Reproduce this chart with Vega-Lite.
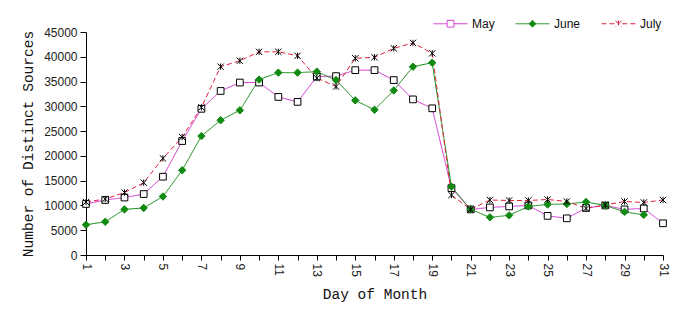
{
  "$schema": "https://vega.github.io/schema/vega-lite/v6.json",
  "width": 577,
  "height": 223,
  "autosize": {"type": "none"},
  "padding": {"left": 86, "top": 32, "right": 13, "bottom": 57},
  "background": "white",
  "config": {
    "view": {"stroke": null},
    "axis": {"grid": false, "domainColor": "#000", "tickColor": "#000", "labelFont": "Liberation Sans", "labelFontSize": 12, "labelColor": "#222", "titleFont": "Liberation Mono", "titleFontSize": 14.5, "titleFontWeight": "normal", "titleColor": "#111"}
  },
  "data": {"values": [
    {"day": 1, "month": "May", "value": 10300}, {"day": 2, "month": "May", "value": 11100}, {"day": 3, "month": "May", "value": 11600}, {"day": 4, "month": "May", "value": 12300}, {"day": 5, "month": "May", "value": 15800}, {"day": 6, "month": "May", "value": 23000}, {"day": 7, "month": "May", "value": 29500}, {"day": 8, "month": "May", "value": 33100}, {"day": 9, "month": "May", "value": 34800}, {"day": 10, "month": "May", "value": 34800}, {"day": 11, "month": "May", "value": 31900}, {"day": 12, "month": "May", "value": 30900}, {"day": 13, "month": "May", "value": 36000}, {"day": 14, "month": "May", "value": 36100}, {"day": 15, "month": "May", "value": 37300}, {"day": 16, "month": "May", "value": 37300}, {"day": 17, "month": "May", "value": 35300}, {"day": 18, "month": "May", "value": 31400}, {"day": 19, "month": "May", "value": 29600}, {"day": 20, "month": "May", "value": 13500}, {"day": 21, "month": "May", "value": 9200}, {"day": 22, "month": "May", "value": 9600}, {"day": 23, "month": "May", "value": 9800}, {"day": 24, "month": "May", "value": 10000}, {"day": 25, "month": "May", "value": 7900}, {"day": 26, "month": "May", "value": 7400}, {"day": 27, "month": "May", "value": 9500}, {"day": 28, "month": "May", "value": 10000}, {"day": 29, "month": "May", "value": 9200}, {"day": 30, "month": "May", "value": 9400}, {"day": 31, "month": "May", "value": 6400},
    {"day": 1, "month": "June", "value": 6100}, {"day": 2, "month": "June", "value": 6700}, {"day": 3, "month": "June", "value": 9200}, {"day": 4, "month": "June", "value": 9500}, {"day": 5, "month": "June", "value": 11800}, {"day": 6, "month": "June", "value": 17100}, {"day": 7, "month": "June", "value": 24000}, {"day": 8, "month": "June", "value": 27200}, {"day": 9, "month": "June", "value": 29200}, {"day": 10, "month": "June", "value": 35400}, {"day": 11, "month": "June", "value": 36800}, {"day": 12, "month": "June", "value": 36800}, {"day": 13, "month": "June", "value": 37000}, {"day": 14, "month": "June", "value": 35300}, {"day": 15, "month": "June", "value": 31200}, {"day": 16, "month": "June", "value": 29300}, {"day": 17, "month": "June", "value": 33200}, {"day": 18, "month": "June", "value": 38000}, {"day": 19, "month": "June", "value": 38800}, {"day": 20, "month": "June", "value": 13800}, {"day": 21, "month": "June", "value": 9200}, {"day": 22, "month": "June", "value": 7600}, {"day": 23, "month": "June", "value": 8000}, {"day": 24, "month": "June", "value": 9800}, {"day": 25, "month": "June", "value": 10200}, {"day": 26, "month": "June", "value": 10300}, {"day": 27, "month": "June", "value": 10700}, {"day": 28, "month": "June", "value": 10000}, {"day": 29, "month": "June", "value": 8700}, {"day": 30, "month": "June", "value": 8100},
    {"day": 1, "month": "July", "value": 10700}, {"day": 2, "month": "July", "value": 11300}, {"day": 3, "month": "July", "value": 12600}, {"day": 4, "month": "July", "value": 14600}, {"day": 5, "month": "July", "value": 19500}, {"day": 6, "month": "July", "value": 23800}, {"day": 7, "month": "July", "value": 29800}, {"day": 8, "month": "July", "value": 38000}, {"day": 9, "month": "July", "value": 39200}, {"day": 10, "month": "July", "value": 41000}, {"day": 11, "month": "July", "value": 41000}, {"day": 12, "month": "July", "value": 40200}, {"day": 13, "month": "July", "value": 35700}, {"day": 14, "month": "July", "value": 34000}, {"day": 15, "month": "July", "value": 39700}, {"day": 16, "month": "July", "value": 39900}, {"day": 17, "month": "July", "value": 41700}, {"day": 18, "month": "July", "value": 42800}, {"day": 19, "month": "July", "value": 40700}, {"day": 20, "month": "July", "value": 12100}, {"day": 21, "month": "July", "value": 9200}, {"day": 22, "month": "July", "value": 11100}, {"day": 23, "month": "July", "value": 11000}, {"day": 24, "month": "July", "value": 11000}, {"day": 25, "month": "July", "value": 11200}, {"day": 26, "month": "July", "value": 10800}, {"day": 27, "month": "July", "value": 9400}, {"day": 28, "month": "July", "value": 10100}, {"day": 29, "month": "July", "value": 10800}, {"day": 30, "month": "July", "value": 10600}, {"day": 31, "month": "July", "value": 11100}
  ]},
  "encoding": {
    "x": {"field": "day", "type": "quantitative", "scale": {"domain": [1, 31], "nice": false, "zero": false},
      "axis": {"title": "Day of Month", "values": [1,2,3,4,5,6,7,8,9,10,11,12,13,14,15,16,17,18,19,20,21,22,23,24,25,26,27,28,29,30,31], "labelExpr": "datum.value % 2 === 1 ? datum.label : ''", "labelAngle": 90, "tickSize": 5, "labelPadding": 3, "titlePadding": 11}},
    "y": {"field": "value", "type": "quantitative", "scale": {"domain": [0, 45000], "nice": false},
      "axis": {"title": "Number of Distinct Sources", "values": [0,5000,10000,15000,20000,25000,30000,35000,40000,45000], "format": "d", "tickSize": 6, "labelPadding": 3, "titlePadding": 8}}
  },
  "layer": [
    {
      "mark": {"type": "line", "strokeWidth": 1},
      "encoding": {
        "color": {"field": "month", "type": "nominal", "scale": {"domain": ["May", "June", "July"], "range": ["#d030d0", "#108a10", "#e0203c"]},
          "legend": {"orient": "none", "legendX": 347, "legendY": -26, "direction": "horizontal", "title": null, "symbolSize": 1156, "symbolStrokeWidth": 1, "labelFont": "Liberation Sans", "labelFontSize": 12, "labelColor": "#111", "labelOffset": 4, "columnPadding": 18,
            "encode": {"symbols": {"update": {
              "shape": {"signal": "datum.value === 'May' ? 'M-1,0H-0.2M0.2,0H1M-0.2,-0.2H0.2V0.2H-0.2Z' : datum.value === 'June' ? 'M-1,0H1M0,-0.2L0.2,0L0,0.2L-0.2,0Z' : 'M-1,0H-0.22M0.22,0H1M-0.18,-0.18L0.18,0.18M0.18,-0.18L-0.18,0.18M0,-0.2V0.2'"},
              "fill": {"signal": "datum.value === 'May' ? 'white' : datum.value === 'June' ? '#108a10' : 'transparent'"}
            }}}}},
        "strokeDash": {"field": "month", "type": "nominal", "scale": {"domain": ["May", "June", "July"], "range": [[1, 0], [1, 0], [5, 3]]}, "legend": null}
      }
    },
    {
      "transform": [{"filter": "datum.month === 'May'"}],
      "mark": {"type": "point", "shape": "square", "size": 45, "filled": true, "fill": "white", "stroke": "#000", "strokeWidth": 1, "opacity": 1}
    },
    {
      "transform": [{"filter": "datum.month === 'June'"}],
      "mark": {"type": "point", "shape": "diamond", "size": 55, "filled": true, "fill": "#108a10", "stroke": "#108a10", "strokeWidth": 1, "opacity": 1}
    },
    {
      "transform": [{"filter": "datum.month === 'July'"}],
      "mark": {"type": "point", "shape": "M-1,-1L1,1M1,-1L-1,1M0,-1V1", "size": 40, "filled": false, "stroke": "#000", "strokeWidth": 1, "opacity": 1}
    }
  ]
}
